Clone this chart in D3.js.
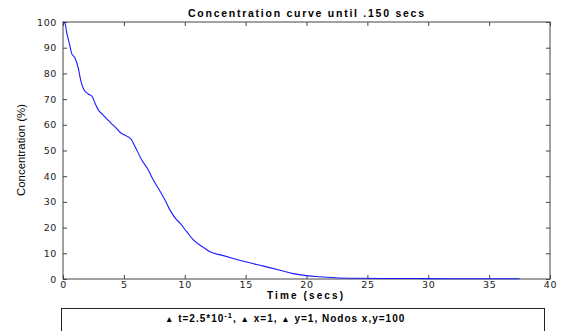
<!DOCTYPE html>
<html>
<head>
<meta charset="utf-8">
<style>
  body { margin: 0; background: #fff; }
  text { font-family: "Liberation Sans", Arial, sans-serif; }
</style>
<script src="https://d3js.org/d3.v7.min.js"></script>
</head>
<body>
<div id="my_dataviz"></div>
<script>
// data
var times = [0, 0.16, 0.3, 0.52, 0.71, 0.99, 1.26, 1.45, 1.73, 2.08, 2.41, 2.63, 2.9, 3.3, 3.59, 4.0, 4.4, 4.68,
  5.23, 5.59, 5.92, 6.47, 7.01, 7.42, 7.83, 8.38, 8.79, 9.34, 9.61, 10.16, 10.71, 11.53, 12.08, 13.17, 13.99,
  15.09, 16.46, 17.83, 18.9, 20, 21, 22.35, 24.1, 27, 30, 32.6, 35, 37.5];
var conc = [100, 99.5, 96, 91.7, 87.8, 85.9, 82, 77.4, 73.5, 72, 70.9, 68.4, 65.8, 63.8, 62.3, 60.4, 58.6, 57.1,
  55.6, 54.4, 51.5, 46.3, 42.4, 38.5, 35.3, 30.7, 26.8, 23, 21.7, 18.4, 15.2, 12.3, 10.6, 9.1, 8,
  6.6, 5.0, 3.4, 2.1, 1.3, 0.9, 0.5, 0.3, 0.2, 0.15, 0.1, 0.1, 0.1];
var xTicks = [0, 5, 10, 15, 20, 25, 30, 35, 40];
var yTicks = [0, 10, 20, 30, 40, 50, 60, 70, 80, 90, 100];
var titleText = "Concentration curve until .150 secs";
var xLabel = "Time (secs)";
var yLabel = "Concentration (%)";

var W = 566, H = 331;
var margin = {top: 22, right: 16, bottom: 52, left: 63},
    width = W - margin.left - margin.right,
    height = H - margin.top - margin.bottom;

var root = d3.select("#my_dataviz").append("svg")
    .attr("width", W).attr("height", H);
var svg = root.append("g")
    .attr("transform", "translate(" + margin.left + "," + margin.top + ")");

var x = d3.scaleLinear().domain([0, 40]).range([0, width]);
var y = d3.scaleLinear().domain([0, 100]).range([height, 0]);

// box
svg.append("rect")
  .attr("width", width).attr("height", height)
  .attr("fill", "none").attr("stroke", "#444").attr("stroke-width", 1);

// axes with inward ticks
function styleAxis(g) {
  g.select(".domain").remove();
  g.selectAll(".tick line").attr("stroke", "#444");
  g.selectAll(".tick text").attr("fill", "#222")
    .style("font-family", "'DejaVu Sans', sans-serif")
    .style("font-size", "9.5px").style("letter-spacing", "0.6px");
}
svg.append("g").attr("transform", "translate(0," + height + ")")
  .call(d3.axisBottom(x).tickValues(xTicks).tickSizeInner(-4).tickSizeOuter(0).tickPadding(2))
  .call(styleAxis);
svg.append("g")
  .call(d3.axisLeft(y).tickValues(yTicks).tickSizeInner(-4).tickSizeOuter(0).tickPadding(6))
  .call(styleAxis);
svg.append("g")
  .call(d3.axisTop(x).tickValues(xTicks).tickSizeInner(-4).tickSizeOuter(0).tickFormat(""))
  .call(styleAxis);
svg.append("g").attr("transform", "translate(" + width + ",0)")
  .call(d3.axisRight(y).tickValues(yTicks).tickSizeInner(-4).tickSizeOuter(0).tickFormat(""))
  .call(styleAxis);

// curve
var data = times.map(function(t, i) { return {x: t, y: conc[i]}; });
svg.append("path")
  .datum(data)
  .attr("fill", "none")
  .attr("stroke", "#1a1aff")
  .attr("stroke-width", 1.1)
  .attr("d", d3.line()
    .curve(d3.curveMonotoneX)
    .x(function(d) { return x(d.x); })
    .y(function(d) { return y(d.y); }));

// title and labels
root.append("text")
  .attr("x", 306).attr("y", 17)
  .attr("text-anchor", "middle")
  .style("font-size", "10.5px").style("font-weight", "bold")
  .attr("textLength", 236).attr("lengthAdjust", "spacing")
  .text(titleText);

root.append("text")
  .attr("x", 305).attr("y", 299)
  .attr("text-anchor", "middle")
  .style("font-size", "10px").style("font-weight", "bold")
  .attr("textLength", 76).attr("lengthAdjust", "spacing")
  .text(xLabel);

root.append("text")
  .attr("transform", "translate(25,150) rotate(-90)")
  .attr("text-anchor", "middle")
  .style("font-size", "10px")
  .attr("textLength", 92).attr("lengthAdjust", "spacingAndGlyphs")
  .text(yLabel);

// legend box
root.append("rect")
  .attr("x", 61.5).attr("y", 308.5).attr("width", 483).attr("height", 40)
  .attr("fill", "#fff").attr("stroke", "#222").attr("stroke-width", 1);

var leg = root.append("text")
  .attr("x", 165).attr("y", 322)
  .style("font-size", "10px").style("font-weight", "bold")
  .style("letter-spacing", "1px");
leg.append("tspan").style("font-size", "8.5px").text("\u25B2");
leg.append("tspan").text(" t=2.5*10");
leg.append("tspan").attr("dy", -4).style("font-size", "7.5px").text("-1");
leg.append("tspan").attr("dy", 4).text(", ");
leg.append("tspan").style("font-size", "8.5px").text("\u25B2");
leg.append("tspan").text(" x=1, ");
leg.append("tspan").style("font-size", "8.5px").text("\u25B2");
leg.append("tspan").text(" y=1, Nodos x,y=100");
</script>
</body>
</html>
